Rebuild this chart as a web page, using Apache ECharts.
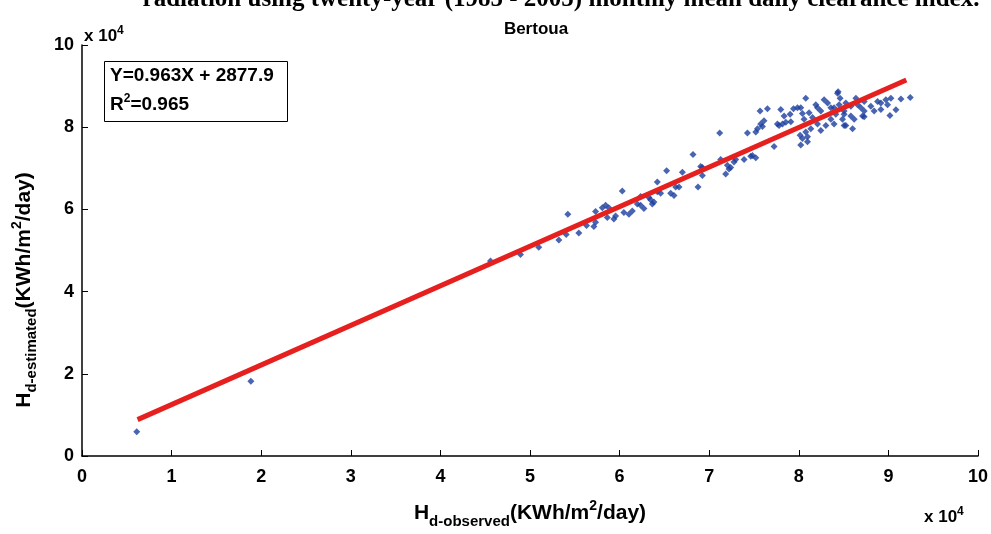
<!DOCTYPE html>
<html><head><meta charset="utf-8">
<script src="https://cdn.jsdelivr.net/npm/echarts@6/dist/echarts.min.js"></script>
<style>html,body{margin:0;padding:0;background:#fff}#c{width:991px;height:534px}</style>
</head><body><div id="c"></div>
<script>
// Observed (x) and estimated (y) monthly mean daily values, KWh/m^2/day
const observed = [6110,18850,45590,48940,50980,53220,54220,54040,55450,56310,57130,57320,58070,58440,58800,58630,59360,59550,60300,60480,61040,61420,61980,62350,62720,63270,63650,63830,64210,57320,64210,64580,
65250,67010,68190,69050,69240,68750,66260,65700,66070,63460,66630,69240,71170,71280,71840,72030,72400,72960,73890,74640,75200,74270,75200,75390,75750,75940,72210,72770,74830,62350,
80780,82830,84390,84610,77990,78360,75680,76500,76120,79030,79410,79850,80220,80410,81150,81900,82090,81530,80590,79110,78550,82460,83210,83580,84130,85060,83580,83940,85060,82090,81340,80780,80150,80220,80410,80970,77240,77800,78180,82460,83020,77620,80970,
91400,92440,90280,89720,89160,88790,88040,87300,86370,86560,85810,85250,84320,84500,83940,85060,85810,86180,87120,87300,88410,89160,89910,85250,86000,87300,86930,84880,90170,90840];
const estimated = [5880,18190,47460,49010,50820,52540,58820,53880,54280,56070,55840,59460,60400,61010,60400,58050,57650,58420,64470,59220,58820,59600,61340,61010,60240,62890,61340,61810,66660,56870,64310,63930,
69410,69010,73340,70420,68240,65480,65480,63930,63360,62350,65480,70190,78590,72160,68640,70750,70190,72160,72160,72940,72540,78590,78820,79600,80780,80160,69810,71530,73110,63130,
87060,86660,88640,87060,84310,82750,83930,84470,81580,83130,84470,84710,84710,83360,83530,85480,84710,82350,81950,81340,81180,83930,85880,84710,83130,83930,81950,80780,80400,80780,79600,78820,78050,75690,77250,77650,75290,80400,80780,79220,80400,80780,76470,
86890,87220,87060,86660,85880,86280,85110,86280,87060,85480,85110,85880,88240,85480,84710,83130,82750,81950,82750,83930,83930,84310,85480,80400,79600,82520,84710,81950,82820,84240];
// Fitted line Y = 0.963X + 2877.9, drawn between the smallest and largest observation
const fitX = [6200, 92000];
const fitY = [8850, 91480];
const xTicks = [0,1,2,3,4,5,6,7,8,9,10];
const yTicks = [0,2,4,6,8,10];
const titleText = 'Bertoua';
const topText = 'radiation using twenty-year (1985 - 2005) monthly mean daily clearance index.';
const eqText = 'Y=0.963X + 2877.9';
const r2Text = '0.965';

const chart = echarts.init(document.getElementById('c'), null, {renderer:'canvas'});
const F = '"Liberation Sans",Arial,sans-serif';
const axisCommon = {
  axisLine:{show:true,onZero:false,lineStyle:{color:'#000',width:1.5}},
  axisTick:{show:true,inside:true,length:6,lineStyle:{color:'#000',width:1}},
  splitLine:{show:false},
  axisLabel:{color:'#000',fontFamily:F,fontWeight:'bold',fontSize:18}
};
const nameRich = {
  h:{fontFamily:F,fontWeight:'bold',fontSize:21,fill:'#000',color:'#000'},
  s:{fontFamily:F,fontWeight:'bold',fontSize:15,fill:'#000',color:'#000',padding:[16,0,0,0]},
  n:{fontFamily:F,fontWeight:'bold',fontSize:21,fill:'#000',color:'#000'},
  p:{fontFamily:F,fontWeight:'bold',fontSize:14,fill:'#000',color:'#000',padding:[0,0,14,0]}
};
chart.setOption({
  animation:false,
  backgroundColor:'#fff',
  title:{text:titleText,left:531,top:16,textAlign:'center',
    textStyle:{fontFamily:F,fontWeight:'bold',fontSize:17,color:'#000'}},
  grid:{left:82,right:12,top:45,bottom:64,containLabel:false},
  xAxis:Object.assign({},axisCommon,{type:'value',min:0,max:100000,interval:10000,
    axisLabel:Object.assign({},axisCommon.axisLabel,{margin:12,formatter:v=>String(xTicks[Math.round(v/10000)])}),
    name:'{h|H}{s|d-observed}{n|(KWh/m}{p|2}{n|/day)}',nameLocation:'middle',nameGap:42,
    nameTextStyle:{rich:nameRich}}),
  yAxis:Object.assign({},axisCommon,{type:'value',min:0,max:100000,interval:20000,
    axisLabel:Object.assign({},axisCommon.axisLabel,{margin:8,formatter:v=>String(yTicks[Math.round(v/20000)])})}),
  graphic:[
    {type:'text',x:561,y:-13,style:{text:topText,align:'center',fontFamily:'"Liberation Serif","Times New Roman",serif',fontWeight:'bold',fontSize:25,fill:'#000'}},
    {type:'text',x:24,y:290,rotation:Math.PI/2,style:{text:'{h|H}{s|d-estimated}{n|(KWh/m}{p|2}{n|/day)}',align:'center',verticalAlign:'middle',rich:nameRich}},
    {type:'text',left:84,top:25,style:{text:'{a|x 10}{b|4}',rich:{a:{fontFamily:F,fontWeight:'bold',fontSize:17,fill:'#000'},b:{fontFamily:F,fontWeight:'bold',fontSize:12,fill:'#000',padding:[0,0,10,0]}}}},
    {type:'text',left:924,top:506,style:{text:'{a|x 10}{b|4}',rich:{a:{fontFamily:F,fontWeight:'bold',fontSize:17,fill:'#000'},b:{fontFamily:F,fontWeight:'bold',fontSize:12,fill:'#000',padding:[0,0,10,0]}}}},
    {type:'rect',shape:{x:104.5,y:61.5,width:183,height:60},style:{fill:'#fff',stroke:'#000',lineWidth:1},z:10},
    {type:'text',left:110,top:66,z:11,style:{text:eqText,fontFamily:F,fontWeight:'bold',fontSize:19,fill:'#000'}},
    {type:'text',left:110,top:93,z:11,style:{text:'{a|R}{b|2}{a|='+r2Text+'}',rich:{a:{fontFamily:F,fontWeight:'bold',fontSize:19,fill:'#000'},b:{fontFamily:F,fontWeight:'bold',fontSize:12,fill:'#000',padding:[0,0,11,0]}}}}
  ],
  series:[
    {type:'scatter',symbol:'diamond',symbolSize:7,itemStyle:{color:'#1c3f9e'},
      data:observed.map((x,i)=>[x,estimated[i]]),z:2},
    {type:'line',symbol:'none',lineStyle:{color:'#e5201e',width:5},
      data:fitX.map((x,i)=>[x,fitY[i]]),z:3}
  ]
});
</script></body></html>
